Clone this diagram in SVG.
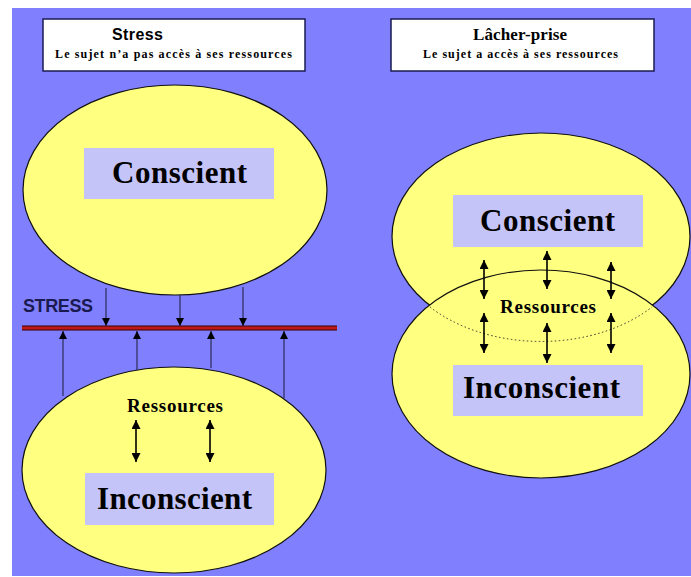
<svg xmlns="http://www.w3.org/2000/svg" width="691" height="577" viewBox="0 0 691 577">
<defs>
<style>
.ell{fill:#FFFF80;stroke:#101010;stroke-width:1.2}
.box{fill:#C4C4F8}
.title{fill:#FFFFFF;stroke:#1A1A50;stroke-width:1.5}
.big{font-family:"Liberation Serif","Times New Roman",serif;font-weight:bold;font-size:31px;fill:#000}
.res{font-family:"Liberation Serif","Times New Roman",serif;font-weight:bold;font-size:19px;fill:#000}
.sub{font-family:"Liberation Serif","Times New Roman",serif;font-size:12px;fill:#000}
.conn{stroke:#2A2A55;stroke-width:1.2;fill:none}
.dbl{stroke:#000;stroke-width:1.6;fill:none}
</style>
<marker id="ah" viewBox="0 0 10 10" refX="10" refY="5" markerWidth="8" markerHeight="8" markerUnits="userSpaceOnUse" orient="auto">
<path d="M0,0 L10,5 L0,10 Z" fill="#000"/>
</marker>
<marker id="ah2" viewBox="0 0 10 10" refX="10" refY="5" markerWidth="9" markerHeight="9" markerUnits="userSpaceOnUse" orient="auto-start-reverse">
<path d="M0,0 L10,5 L0,10 Z" fill="#000"/>
</marker>
</defs>
<rect x="0" y="0" width="691" height="577" fill="#FFFFFF"/>
<rect x="12" y="8" width="679" height="568" fill="#8080FF"/>

<g id="title-stress">
<rect class="title" x="43" y="19" width="262" height="52"/>
<text x="112" y="40" font-family="'Liberation Sans',Arial,sans-serif" font-weight="bold" font-size="16" textLength="51">Stress</text>
<text class="sub" x="55" y="58" textLength="237" font-weight="bold">Le sujet n’a pas accès à ses ressources</text>
</g>

<g id="title-lacher">
<rect class="title" x="391" y="19" width="263" height="52"/>
<text x="473" y="40" font-family="'Liberation Serif','Times New Roman',serif" font-weight="bold" font-size="17" textLength="94">Lâcher-prise</text>
<text class="sub" x="423" y="58" textLength="195" font-weight="bold">Le sujet a accès à ses ressources</text>
</g>

<g id="left-conscient">
<ellipse class="ell" cx="175" cy="190" rx="152" ry="105"/>
<rect class="box" x="84" y="148" width="190" height="51"/>
<text class="big" x="112" y="183" textLength="135">Conscient</text>
</g>

<g id="left-inconscient">
<ellipse class="ell" cx="174" cy="470" rx="152" ry="103"/>
<text class="res" x="127" y="412" textLength="96">Ressources</text>
<rect class="box" x="85" y="473" width="189" height="52"/>
<text class="big" x="97" y="509" textLength="155">Inconscient</text>
</g>

<g id="stress-line">
<line x1="22" y1="328" x2="337" y2="328" stroke="#3A0000" stroke-width="5"/>
<line x1="22" y1="328" x2="337" y2="328" stroke="#C01818" stroke-width="3"/>
<text x="23" y="312" font-family="'Liberation Sans',Arial,sans-serif" font-weight="bold" font-size="18" fill="#1A1A50" textLength="70">STRESS</text>
</g>

<g id="right-conscient">
<ellipse class="ell" cx="541" cy="236.5" rx="149" ry="103.5"/>
</g>
<g id="right-inconscient">
<ellipse class="ell" cx="541" cy="374" rx="149" ry="104"/>
<path d="M430,307 A149,103.5 0 0 0 652,307" fill="none" stroke="#303030" stroke-width="1" stroke-dasharray="1.5,2.5"/>
</g>
<g id="right-labels">
<rect class="box" x="453" y="195" width="190" height="52"/>
<text class="big" x="480" y="231" textLength="135">Conscient</text>
<text class="res" x="500" y="313" textLength="96">Ressources</text>
<rect class="box" x="453" y="365" width="190" height="51"/>
<text class="big" x="463" y="398" textLength="157">Inconscient</text>
</g>

<g id="connectors">
<line class="conn" x1="106" y1="288" x2="106" y2="326" marker-end="url(#ah)"/>
<line class="conn" x1="180" y1="295" x2="180" y2="326" marker-end="url(#ah)"/>
<line class="conn" x1="243" y1="287" x2="243" y2="326" marker-end="url(#ah)"/>
<line class="conn" x1="63" y1="396" x2="63" y2="331" marker-end="url(#ah)"/>
<line class="conn" x1="137" y1="370" x2="137" y2="331" marker-end="url(#ah)"/>
<line class="conn" x1="211" y1="368" x2="211" y2="331" stroke-width="2" marker-end="url(#ah)"/>
<line class="conn" x1="284" y1="398" x2="284" y2="331" marker-end="url(#ah)"/>
<line class="dbl" x1="136" y1="420" x2="136" y2="462" marker-start="url(#ah2)" marker-end="url(#ah2)"/>
<line class="dbl" x1="210" y1="420" x2="210" y2="462" marker-start="url(#ah2)" marker-end="url(#ah2)"/>
<line class="dbl" x1="484" y1="260" x2="484" y2="299" marker-start="url(#ah2)" marker-end="url(#ah2)"/>
<line class="dbl" x1="547" y1="251" x2="547" y2="289" marker-start="url(#ah2)" marker-end="url(#ah2)"/>
<line class="dbl" x1="611" y1="262" x2="611" y2="299" marker-start="url(#ah2)" marker-end="url(#ah2)"/>
<line class="dbl" x1="484" y1="313" x2="484" y2="353" marker-start="url(#ah2)" marker-end="url(#ah2)"/>
<line class="dbl" x1="547" y1="323" x2="547" y2="363" marker-start="url(#ah2)" marker-end="url(#ah2)"/>
<line class="dbl" x1="611" y1="313" x2="611" y2="353" marker-start="url(#ah2)" marker-end="url(#ah2)"/>
</g>
</svg>
